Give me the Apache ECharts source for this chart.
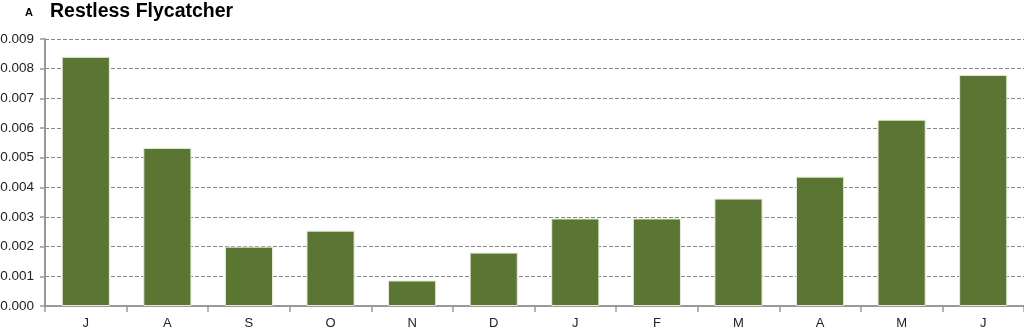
<!DOCTYPE html>
<html><head><meta charset="utf-8">
<script src="https://cdn.jsdelivr.net/npm/echarts@6/dist/echarts.min.js"></script>
<style>html,body{margin:0;padding:0;background:#fff}#c{width:1024px;height:331px}</style>
</head><body><div id="c"></div>
<script>
const categories = ['J','A','S','O','N','D','J','F','M','A','M','J'];
const values = [0.0084,0.00533,0.0020,0.00254,0.00086,0.0018,0.00295,0.00295,0.00362,0.00436,0.00628,0.00779];
const yTicks = [0,0.001,0.002,0.003,0.004,0.005,0.006,0.007,0.008,0.009];
const chart = echarts.init(document.getElementById('c'));
chart.setOption({
  animation:false,
  graphic:[
    {type:'text',left:25,top:7,style:{text:'A',font:'bold 11px "Liberation Sans", Arial',fill:'#000'}},
    {type:'text',left:50,top:2,style:{text:'Restless Flycatcher',font:'bold 19.5px "Liberation Sans", Arial',fill:'#000'}}
  ],
  grid:{left:45,right:0,top:39,bottom:25,containLabel:false,outerBoundsMode:'none'},
  xAxis:{type:'category',data:categories,
    axisLine:{lineStyle:{color:'#999',width:2}},
    axisTick:{show:true,length:6,lineStyle:{color:'#999',width:1.5}},
    axisLabel:{color:'#222',fontFamily:'Liberation Sans',fontSize:13,margin:11}},
  yAxis:{type:'value',min:0,max:0.009,interval:0.001,
    axisLine:{show:true,lineStyle:{color:'#999',width:2}},
    axisTick:{show:true,length:5,lineStyle:{color:'#999',width:1.5}},
    axisLabel:{color:'#222',fontFamily:'Liberation Sans',fontSize:13.5,margin:11,
      formatter:v=>{const t=yTicks.find(x=>Math.abs(x-v)<1e-9);return (t!==undefined?t:v).toFixed(3);}},
    splitLine:{show:true,lineStyle:{color:'#888',type:[4,2],width:1}}},
  series:[{type:'bar',data:values,barCategoryGap:'41%',
    itemStyle:{color:'#5b7632',borderColor:'#e6ecd9',borderWidth:1}}]
});
</script></body></html>
